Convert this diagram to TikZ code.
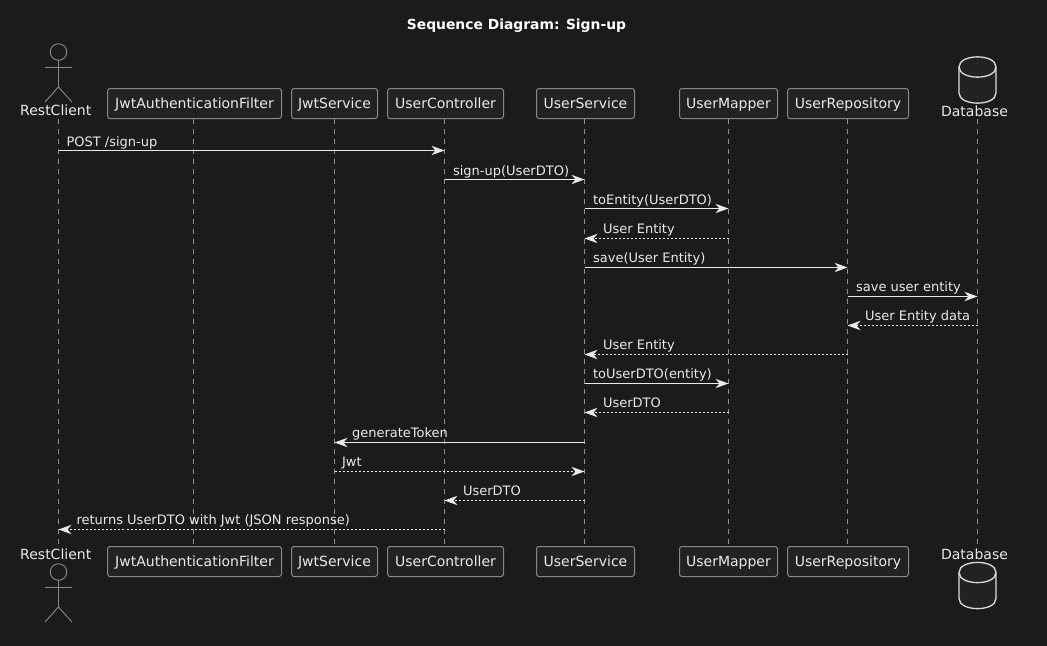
\documentclass[tikz,border=0pt]{standalone}
\usepackage{fontspec}
\setmainfont{DejaVu Sans}
\usetikzlibrary{arrows.meta}
\definecolor{bgc}{HTML}{1B1B1B}
\definecolor{boxc}{HTML}{222222}
\definecolor{edgec}{HTML}{888888}
\definecolor{linec}{HTML}{EAEAEA}
\definecolor{dbc}{HTML}{DCDCDC}
\definecolor{textc}{HTML}{EAEAEA}
\definecolor{lifec}{HTML}{909090}
\tikzset{
  x=0.75pt,y=-0.75pt,
  part/.style={draw=edgec,fill=boxc,rounded corners=1.9pt,line width=0.75pt,minimum height=22.5pt,inner sep=0pt,text=textc,font=\fontsize{10.5pt}{12pt}\selectfont,text height=7.8pt,text depth=0.2pt,anchor=center},
  plabel/.style={text=textc,font=\fontsize{10.5pt}{12pt}\selectfont,inner sep=0pt},
  mlabel/.style={text=textc,font=\fontsize{9.75pt}{12pt}\selectfont,inner sep=0pt,anchor=base west},
  lifeline/.style={draw=lifec,line width=0.75pt,dash pattern=on 3.75pt off 3.75pt},
  figure/.style={draw=edgec,line width=0.7pt},
  dbshape/.style={draw=dbc,fill=boxc,line width=1pt},
  call/.style={draw=linec,line width=0.75pt,-{Stealth[length=9.75pt,width=7pt,inset=3pt,fill=linec]}},
  reply/.style={call,dash pattern=on 1.5pt off 1.5pt},
}
\newcommand{\actorfig}[2]{% x, head y
  \draw[figure] (#1,#2) circle[radius=6.2pt];
  \draw[figure] (#1,#2+8) -- (#1,#2+35) (#1-13.5,#2+15.5) -- (#1+13.5,#2+15.5)
     (#1-13.5,#2+50) -- (#1,#2+35) -- (#1+13.5,#2+50);
}
\newcommand{\dbfig}[2]{% x, top y
  \draw[dbshape] (#1-18.5,#2+10) .. controls (#1-18.5,#2-3.5) and (#1+18.5,#2-3.5) .. (#1+18.5,#2+10)
    -- (#1+18.5,#2+36) .. controls (#1+18.5,#2+49.5) and (#1-18.5,#2+49.5) .. (#1-18.5,#2+36) -- cycle;
  \draw[dbshape,fill=none] (#1-18.5,#2+10) .. controls (#1-18.5,#2+23.5) and (#1+18.5,#2+23.5) .. (#1+18.5,#2+10);
}
% \msg{style}{from}{to}{arrow y}{text x}{text baseline y}{text}
\newcommand{\msg}[7]{%
  \draw[#1] (#2 |- 0,#4+0.5) -- (#3 |- 0,#4+0.5);
  \node[mlabel] at (#5-0.2,#6) {#7};
}
\begin{document}
\begin{tikzpicture}
\useasboundingbox[fill=bgc] (0,0) rectangle (1047,646);
\node[text=white,font=\bfseries\fontsize{10.4pt}{12pt}\selectfont,inner sep=0pt,anchor=base] (title) at (516.5,29) {Sequence Diagram: Sign-up};

% lifeline heads (top)
\actorfig{58.5}{52}
\node[plabel] (rcT) at (55.75,110.5) {RestClient};
\coordinate (a) at (58.5,118.5);
\coordinate (a2) at (58.5,546.5);
\node[part,minimum width=130.5pt] (jfT) at (194.5,103.5) {JwtAuthenticationFilter};
\node[part,minimum width=64.5pt] (jsT) at (334.5,103.5) {JwtService};
\node[part,minimum width=87pt] (ucT) at (445.5,103.5) {UserController};
\node[part,minimum width=73.5pt] (usT) at (585.5,103.5) {UserService};
\node[part,minimum width=73.5pt] (umT) at (728.5,103.5) {UserMapper};
\node[part,minimum width=90.75pt] (urT) at (848,103.5) {UserRepository};
\dbfig{977.5}{57}
\node[plabel] (dbT) at (974.5,111) {Database};
\coordinate (d) at (977.5,118.5);
\coordinate (d2) at (977.5,546.5);

% lifeline heads (bottom)
\node[plabel] (rcB) at (55.75,554) {RestClient};
\actorfig{58.5}{572}
\node[part,minimum width=130.5pt] (jfB) at (194.5,561.5) {JwtAuthenticationFilter};
\node[part,minimum width=64.5pt] (jsB) at (334.5,561.5) {JwtService};
\node[part,minimum width=87pt] (ucB) at (445.5,561.5) {UserController};
\node[part,minimum width=73.5pt] (usB) at (585.5,561.5) {UserService};
\node[part,minimum width=73.5pt] (umB) at (728.5,561.5) {UserMapper};
\node[part,minimum width=90.75pt] (urB) at (848,561.5) {UserRepository};
\node[plabel] (dbB) at (974.5,554) {Database};
\dbfig{977.5}{562.5}

% lifeline x positions
\coordinate (jf) at (193.5,118.5);
\coordinate (js) at (334.5,118.5);
\coordinate (uc) at (444.5,118.5);
\coordinate (us) at (584.5,118.5);
\coordinate (um) at (728.5,118.5);
\coordinate (ur) at (847.5,118.5);

% lifelines
\draw[lifeline] (a) -- (a2);
\draw[lifeline] (jf) -- (jf |- jfB.north);
\draw[lifeline] (js) -- (js |- jsB.north);
\draw[lifeline] (uc) -- (uc |- ucB.north);
\draw[lifeline] (us) -- (us |- usB.north);
\draw[lifeline] (um) -- (um |- umB.north);
\draw[lifeline] (ur) -- (ur |- urB.north);
\draw[lifeline] (d) -- (d2);

% messages
\msg{call}{a}{uc}{150}{66.5}{146.5}{POST /sign-up}
\msg{call}{uc}{us}{179}{453}{175.5}{sign-up(UserDTO)}
\msg{call}{us}{um}{208}{593}{204.5}{toEntity(UserDTO)}
\msg{reply}{um}{us}{238}{603}{233.5}{User Entity}
\msg{call}{us}{ur}{267}{593}{262.5}{save(User Entity)}
\msg{call}{ur}{d}{296}{856}{291.5}{save user entity}
\msg{reply}{d}{ur}{325}{865}{320.5}{User Entity data}
\msg{reply}{ur}{us}{354}{603}{349.5}{User Entity}
\msg{call}{us}{um}{383}{593}{378.5}{toUserDTO(entity)}
\msg{reply}{um}{us}{412}{603}{407.5}{UserDTO}
\msg{call}{us}{js}{442}{352}{437.5}{generateToken}
\msg{reply}{js}{us}{471}{342}{466.5}{Jwt}
\msg{reply}{us}{uc}{500}{463}{495.5}{UserDTO}
\msg{reply}{uc}{a}{529}{76.5}{524.5}{returns UserDTO with Jwt (JSON response)}
\end{tikzpicture}
\end{document}
